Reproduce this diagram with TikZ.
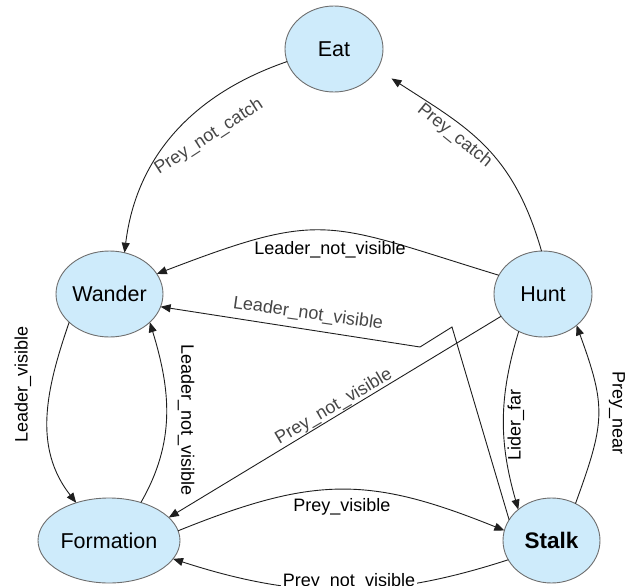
\documentclass[tikz,border=0pt]{standalone}
\usepackage{fontspec}
\setmainfont{Liberation Sans}
\usetikzlibrary{shapes.geometric,arrows.meta}
\definecolor{stfill}{RGB}{206,235,251}
\definecolor{stborder}{RGB}{110,110,110}
\definecolor{edgecol}{RGB}{30,30,30}
\definecolor{slantlbl}{RGB}{70,70,70}
\begin{document}
\begin{tikzpicture}[x=1pt,y=1pt,
  state/.style={ellipse, draw=stborder, fill=stfill, line width=0.9pt, inner sep=0pt, outer sep=0pt,
                minimum height=86pt, font=\fontsize{21.5}{24}\selectfont},
  trans/.style={draw=edgecol, line width=0.9pt, -{Triangle[length=10pt,width=8pt]}},
  lbl/.style={inner sep=0pt, font=\fontsize{18}{20}\selectfont, text=black},
  slbl/.style={lbl, text=slantlbl}]
\useasboundingbox (0,0) rectangle (632,-586);
\clip (0,0) rectangle (632,-586);

% states
\node[state, minimum width=98pt]  (Eat)       at (334,-49)     {Eat};
\node[state, minimum width=107pt] (Wander)    at (109.5,-294)  {Wander};
\node[state, minimum width=98pt]  (Hunt)      at (543,-294)    {Hunt};
\node[state, minimum width=142pt, minimum height=85pt] (Formation) at (109,-540.5) {Formation};
\node[state, minimum width=97pt, minimum height=85pt, font=\fontsize{22.5}{24}\selectfont\bfseries] (Stalk) at (551.5,-540.5) {Stalk};

\coordinate (k1) at (452,-327);
\coordinate (k2) at (420,-347);

% transitions
\draw[trans] (Eat.195) to[out=199,in=83] (Wander.70);
\draw[trans, shorten >=17pt] (Hunt.92) to[out=106,in=-33,looseness=1.1] (Eat.-25);
\draw[trans] (Hunt.157) to[out=163,in=21,looseness=1.35] (Wander.23);
\draw[trans] (Stalk.154) -- (k1) -- (k2) -- (Wander.-14);
\draw[trans] (Hunt.208) -- (Formation.21);
\draw[trans] (Wander.215) to[out=251,in=128] (Formation.131);
\draw[trans] (Formation.50) to[out=60,in=-73] (Wander.-35);
\draw[trans] (Hunt.237) to[out=253,in=106] (Stalk.137);
\draw[trans] (Stalk.57) to[out=70,in=-70,looseness=1.25] (Hunt.-43);
\draw[trans] (Formation.8) to[out=22,in=158,looseness=1.15] (Stalk.168);
\draw[trans] (Stalk.204) to[out=198,in=-18] (Formation.-16);

% labels
\node[slbl, rotate=33]   (l1)  at (209,-137)   {Prey\_not\_catch};
\node[slbl, rotate=-39]  (l2)  at (454.5,-136) {Prey\_catch};
\node[lbl]               (l3)  at (330,-250)   {Leader\_not\_visible};
\node[slbl, rotate=-8]   (l4)  at (308,-314)   {Leader\_not\_visible};
\node[slbl, rotate=30.5] (l5)  at (334,-407)   {Prey\_not\_visible};
\node[lbl, rotate=90]    (l6)  at (23,-384)    {Leader\_visible};
\node[lbl, rotate=-90]   (l7)  at (186,-420)   {Leader\_not\_visible};
\node[lbl, rotate=90]    (l8)  at (516,-425)   {Lider\_far};
\node[lbl, rotate=-90]   (l9)  at (617,-413)   {Prey\_near};
\node[lbl]               (l10) at (342,-507)   {Prey\_visible};
\node[lbl, fill=white, inner sep=2pt, anchor=base] (l11) at (349,-586) {Prey\_not\_visible};
\end{tikzpicture}
\end{document}
